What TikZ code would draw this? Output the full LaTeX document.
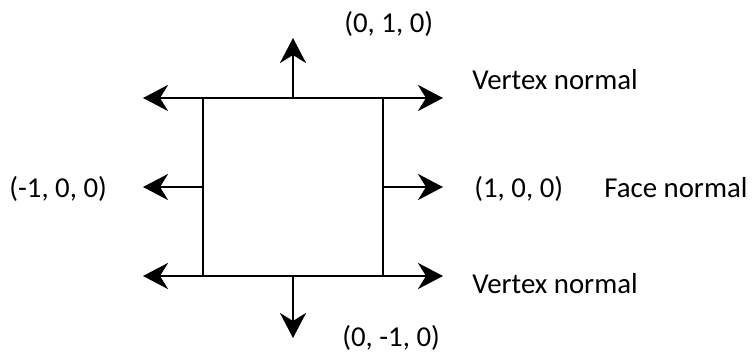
\documentclass[tikz,border=0pt]{standalone}
\usepackage{fontspec}
\setmainfont{Carlito}
\usetikzlibrary{arrows.meta,positioning}
\tikzset {
  >={Stealth[length=5mm,width=5.2mm,inset=1.6mm]},
  every node/.style={font=\fontsize{16.4}{19}\selectfont},
  normal/.style={->,line width=1.6pt},
  lbl/.style={anchor=base west,inner sep=0pt},
}

\begin{document}
\begin{tikzpicture}[x=0.2mm,y=-0.2mm]
  \useasboundingbox (0,0) rectangle (752,354);

  \node[draw,line width=0.9pt,inner sep=0pt,
        minimum width=36mm,minimum height=35.6mm] (face) at (293,187) {};

  \coordinate (tl) at (143,98);
  \coordinate (tr) at (443,98);
  \coordinate (bl) at (143,276);
  \coordinate (br) at (443,276);
  \coordinate (up) at (293,38);
  \coordinate (down) at (293,338);
  \coordinate (left) at (143,187);
  \coordinate (right) at (443,187);

  \draw[normal,<->] (tl) -- (tr);
  \draw[normal,<->] (bl) -- (br);
  \draw[normal] (face.north) -- (up);
  \draw[normal] (face.south) -- (down);
  \draw[normal] (face.west) -- (left);
  \draw[normal] (face.east) -- (right);

  \node[lbl] (ny) at (344,32) {(0, 1, 0)};
  \node[lbl] (vtop) at (472,89) {Vertex normal};
  \node[lbl] (nxm) at (9,197) {(-1, 0, 0)};
  \node[lbl] (nx) at (474,197) {(1, 0, 0)};
  \node[lbl] (fn) at (604,197) {Face normal};
  \node[lbl] (vbot) at (472,293) {Vertex normal};
  \node[lbl] (nym) at (342,346) {(0, -1, 0)};
\end{tikzpicture}
\end{document}
